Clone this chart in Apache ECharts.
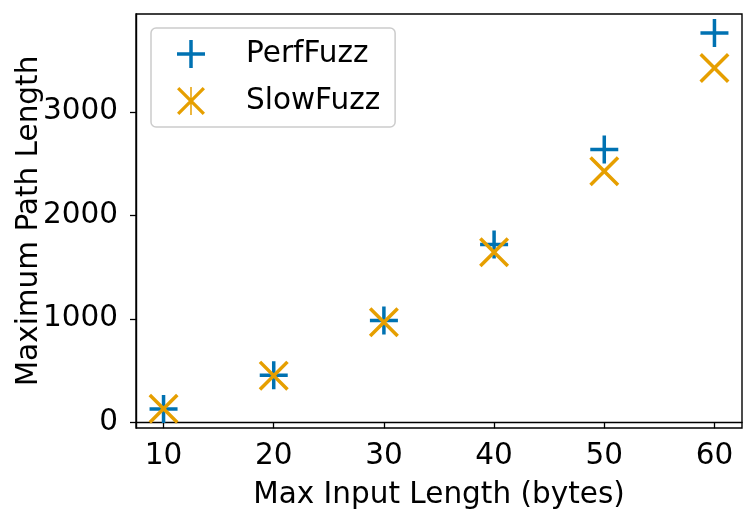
<!DOCTYPE html>
<html>
<head>
<meta charset="utf-8">
<script src="https://cdn.jsdelivr.net/npm/echarts@6/dist/echarts.min.js"></script>
<style>
  html, body { margin: 0; padding: 0; background: #fff; }
  #chart { width: 743px; height: 509px; }
</style>
</head>
<body>
<div id="chart"></div>
<script>
// Input sizes (bytes) and the longest path found by each fuzzer
const inputLengths = [10, 20, 30, 40, 50, 60];
const perfFuzz = [129, 454, 983, 1717, 2636, 3762];
const slowFuzz = [132, 451, 966, 1643, 2425, 3424];
const xTicks = [10, 20, 30, 40, 50, 60];
const yTicks = [0, 1000, 2000, 3000];

// Marker shapes drawn as filled outlines
const plusPath = 'path://M12.25,0h3.5v28h-3.5zM0,12.25h28v3.5h-28z';
const crossPath = 'path://M0,2.48L2.48,0L30,27.52L27.52,30ZM27.52,0L30,2.48L2.48,30L0,27.52Z';
const crossLegendPath = 'path://M0,2.48L2.48,0L30,27.52L27.52,30ZM27.52,0L30,2.48L2.48,30L0,27.52ZM14.2,0h1.6v30h-1.6z';

const FONT = 'DejaVu Sans';
const FS = 29.5;
const BLUE = '#0072B2';
const ORANGE = '#E69F00';

const pairs = (ys) => inputLengths.map((x, i) => [x, ys[i]]);

const chart = echarts.init(document.getElementById('chart'), null, { renderer: 'canvas' });
chart.setOption({
  animation: false,
  backgroundColor: '#ffffff',
  grid: {
    left: 136, right: 1, top: 14, bottom: 81,
    containLabel: false, outerBoundsMode: 'none',
    show: true, borderColor: '#000', borderWidth: 1.4, backgroundColor: 'transparent'
  },
  legend: {
    left: 151, top: 28,
    orient: 'vertical',
    padding: [11, 15, 11, 26],
    itemWidth: 28, itemHeight: 28, itemGap: 17,
    borderColor: '#cccccc', borderWidth: 1.5, borderRadius: 5,
    backgroundColor: 'rgba(255,255,255,0.8)',
    textStyle: { fontFamily: FONT, fontSize: FS, color: '#000', lineHeight: 28, padding: [0, 0, 0, 36] },
    data: [
      { name: 'PerfFuzz', icon: plusPath },
      { name: 'SlowFuzz', icon: crossLegendPath }
    ]
  },
  xAxis: {
    type: 'value', min: 7.5, max: 62.5,
    name: 'Max Input Length (bytes)', nameLocation: 'middle', nameGap: 52, nameMoveOverlap: false,
    nameTextStyle: { fontFamily: FONT, fontSize: FS, color: '#000' },
    axisLine: { show: true, lineStyle: { color: '#000', width: 1.4 } },
    axisTick: { show: true, length: 6, lineStyle: { color: '#000', width: 1.3 }, customValues: xTicks },
    axisLabel: { fontFamily: FONT, fontSize: FS, color: '#000', margin: 13, customValues: xTicks },
    splitLine: { show: false }
  },
  yAxis: {
    type: 'value', min: -55, max: 3945,
    name: 'Maximum Path Length', nameLocation: 'middle', nameGap: 92, nameRotate: 90, nameMoveOverlap: false,
    nameTextStyle: { fontFamily: FONT, fontSize: FS, color: '#000' },
    axisLine: { show: true, lineStyle: { color: '#000', width: 1.4 } },
    axisTick: { show: true, length: 6, lineStyle: { color: '#000', width: 1.3 }, customValues: yTicks },
    axisLabel: {
      fontFamily: FONT, fontSize: FS, color: '#000', margin: 18, customValues: yTicks,
      formatter: (v) => String(v)
    },
    splitLine: { show: false }
  },
  series: [
    {
      name: 'PerfFuzz', type: 'scatter',
      symbol: plusPath, symbolSize: [28, 28],
      itemStyle: { color: BLUE, opacity: 1 },
      data: pairs(perfFuzz)
    },
    {
      name: 'SlowFuzz', type: 'scatter',
      symbol: crossPath, symbolSize: [30, 30],
      itemStyle: { color: ORANGE, opacity: 1 },
      data: pairs(slowFuzz)
    }
  ]
});
</script>
</body>
</html>
